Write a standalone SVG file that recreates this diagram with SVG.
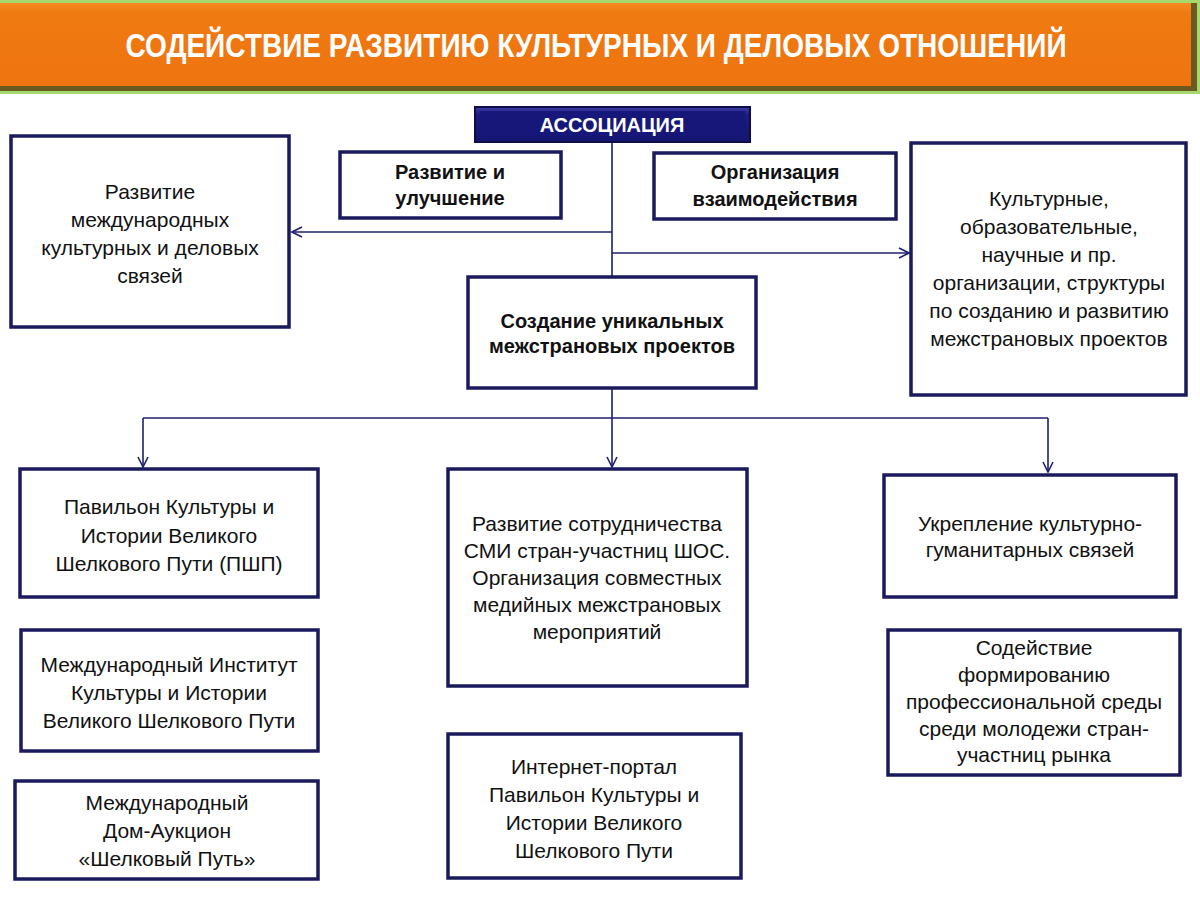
<svg xmlns="http://www.w3.org/2000/svg" width="1200" height="900" viewBox="0 0 1200 900">
<defs>
<style>
.box{fill:#ffffff;stroke:#1a1a5c;stroke-width:3.5}
.t{font-family:"Liberation Sans",Arial,sans-serif;font-size:21px;fill:#111111;text-anchor:middle}
.b{font-weight:bold;font-size:20px}
.con{fill:none;stroke:#1f1f6e;stroke-width:1.6}
</style>
<linearGradient id="og" x1="0" y1="0" x2="0" y2="1">
<stop offset="0" stop-color="#f58a22"/>
<stop offset="0.12" stop-color="#f07a12"/>
<stop offset="1" stop-color="#ee7410"/>
</linearGradient>
<linearGradient id="ng" x1="0" y1="0" x2="0" y2="1">
<stop offset="0" stop-color="#3a3aa0"/>
<stop offset="0.2" stop-color="#1c1c84"/>
<stop offset="1" stop-color="#15156e"/>
</linearGradient>
<marker id="ah" viewBox="0 0 12 12" refX="11" refY="6" markerWidth="12" markerHeight="12" markerUnits="userSpaceOnUse" orient="auto">
<path d="M1,1 L11,6 L1,11" fill="none" stroke="#1f1f6e" stroke-width="1.6"/>
</marker>
</defs>
<rect x="0" y="0" width="1200" height="900" fill="#ffffff"/>
<g id="header">
<rect x="0" y="0" width="1200" height="94" fill="#a6d86e"/>
<rect x="0" y="3" width="1197" height="88" fill="#6b5a20"/>
<rect x="0" y="3" width="1191" height="83" fill="url(#og)"/>
<text transform="translate(596,57) scale(0.85,1)" x="0" y="0" font-family="'Liberation Sans',Arial,sans-serif" font-size="33" font-weight="bold" fill="#ffffff" text-anchor="middle">СОДЕЙСТВИЕ РАЗВИТИЮ КУЛЬТУРНЫХ И ДЕЛОВЫХ ОТНОШЕНИЙ</text>
</g>
<g id="connectors">
<line class="con" x1="612" y1="143" x2="612" y2="277"/>
<line class="con" x1="612" y1="232" x2="292" y2="232" marker-end="url(#ah)"/>
<line class="con" x1="612" y1="253" x2="909" y2="253" marker-end="url(#ah)"/>
<line class="con" x1="612" y1="389" x2="612" y2="467" marker-end="url(#ah)"/>
<line class="con" x1="143" y1="418" x2="1048" y2="418"/>
<line class="con" x1="143" y1="418" x2="143" y2="467" marker-end="url(#ah)"/>
<line class="con" x1="1048" y1="418" x2="1048" y2="472" marker-end="url(#ah)"/>
</g>
<g id="assoc">
<rect x="474" y="106" width="277" height="37" fill="#0d0d4a"/>
<rect x="476" y="108" width="273" height="33" fill="url(#ng)"/>
<rect x="480" y="111" width="265" height="27" fill="#17177a"/>
<text x="612" y="132" font-family="'Liberation Sans',Arial,sans-serif" font-size="20" font-weight="bold" fill="#ffffff" text-anchor="middle">АССОЦИАЦИЯ</text>
</g>
<g id="n-left">
<rect class="box" x="11" y="136" width="278" height="191"/>
<text class="t"><tspan x="150" y="199">Развитие</tspan><tspan x="150" y="227">международных</tspan><tspan x="150" y="255">культурных и деловых</tspan><tspan x="150" y="283">связей</tspan></text>
</g>
<g id="n-dev">
<rect class="box" x="340" y="152" width="221" height="66"/>
<text class="t b"><tspan x="450" y="179">Развитие и</tspan><tspan x="450" y="205">улучшение</tspan></text>
</g>
<g id="n-org">
<rect class="box" x="654" y="153" width="242" height="66"/>
<text class="t b"><tspan x="775" y="179">Организация</tspan><tspan x="775" y="206">взаимодействия</tspan></text>
</g>
<g id="n-right">
<rect class="box" x="911" y="143" width="275" height="252"/>
<text class="t"><tspan x="1049" y="206">Культурные,</tspan><tspan x="1049" y="234">образовательные,</tspan><tspan x="1049" y="262">научные и пр.</tspan><tspan x="1049" y="290">организации, структуры</tspan><tspan x="1049" y="318">по созданию и развитию</tspan><tspan x="1049" y="346">межстрановых проектов</tspan></text>
</g>
<g id="n-center">
<rect class="box" x="468" y="277" width="288" height="111"/>
<text class="t b"><tspan x="612" y="328">Создание уникальных</tspan><tspan x="612" y="353">межстрановых проектов</tspan></text>
</g>
<g id="n-pshp">
<rect class="box" x="20" y="469" width="298" height="128"/>
<text class="t"><tspan x="169" y="514">Павильон Культуры и</tspan><tspan x="169" y="543">Истории Великого</tspan><tspan x="169" y="571">Шелкового Пути (ПШП)</tspan></text>
</g>
<g id="n-inst">
<rect class="box" x="21" y="630" width="297" height="121"/>
<text class="t"><tspan x="169" y="672">Международный Институт</tspan><tspan x="169" y="700">Культуры и Истории</tspan><tspan x="169" y="728">Великого Шелкового Пути</tspan></text>
</g>
<g id="n-auction">
<rect class="box" x="15" y="781" width="303" height="98"/>
<text class="t"><tspan x="167" y="810">Международный</tspan><tspan x="167" y="838">Дом-Аукцион</tspan><tspan x="167" y="866">«Шелковый Путь»</tspan></text>
</g>
<g id="n-media">
<rect class="box" x="448" y="469" width="299" height="217"/>
<text class="t"><tspan x="597" y="531">Развитие сотрудничества</tspan><tspan x="597" y="558">СМИ стран-участниц ШОС.</tspan><tspan x="597" y="585">Организация совместных</tspan><tspan x="597" y="612">медийных межстрановых</tspan><tspan x="597" y="639">мероприятий</tspan></text>
</g>
<g id="n-portal">
<rect class="box" x="448" y="734" width="293" height="144"/>
<text class="t"><tspan x="594" y="774">Интернет-портал</tspan><tspan x="594" y="802">Павильон Культуры и</tspan><tspan x="594" y="830">Истории Великого</tspan><tspan x="594" y="858">Шелкового Пути</tspan></text>
</g>
<g id="n-human">
<rect class="box" x="884" y="475" width="292" height="122"/>
<text class="t"><tspan x="1030" y="531">Укрепление культурно-</tspan><tspan x="1030" y="557">гуманитарных связей</tspan></text>
</g>
<g id="n-youth">
<rect class="box" x="888" y="630" width="292" height="145"/>
<text class="t"><tspan x="1034" y="655">Содействие</tspan><tspan x="1034" y="682">формированию</tspan><tspan x="1034" y="709">профессиональной среды</tspan><tspan x="1034" y="736">среди молодежи стран-</tspan><tspan x="1034" y="762">участниц рынка</tspan></text>
</g>
</svg>
